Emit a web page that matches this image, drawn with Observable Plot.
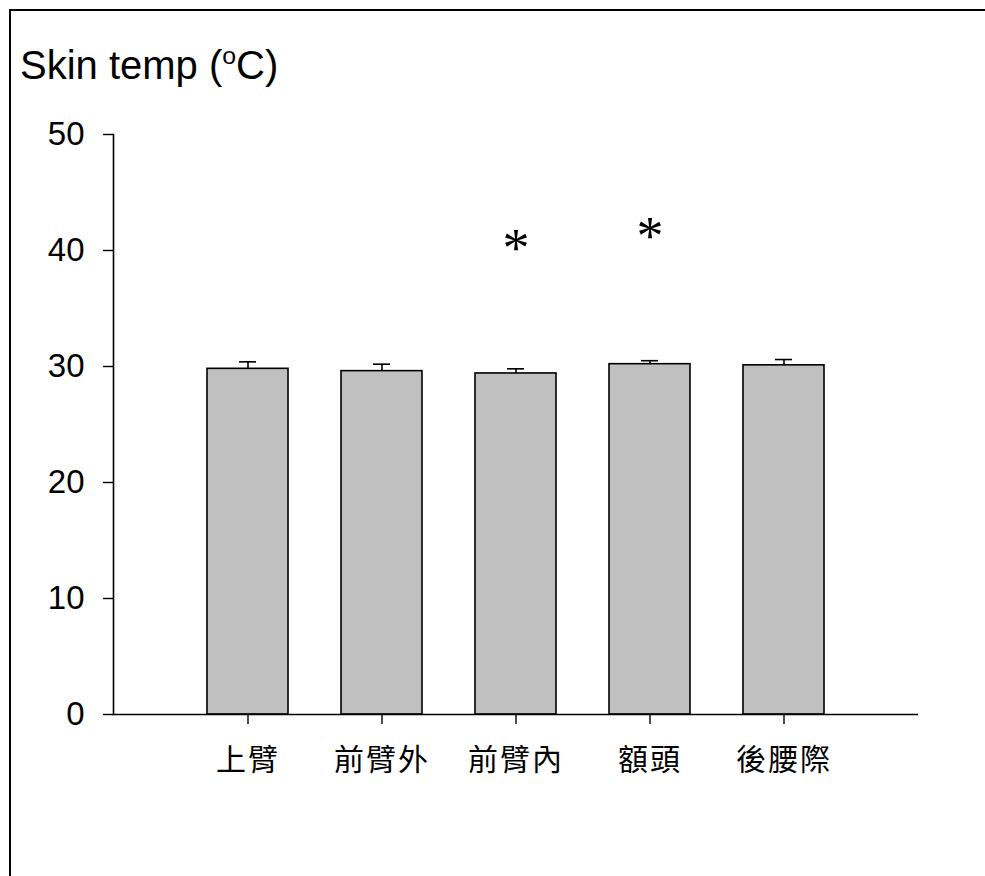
<!DOCTYPE html>
<html>
<head>
<meta charset="utf-8">
<script src="https://cdn.jsdelivr.net/npm/d3@7"></script>
<script src="https://cdn.jsdelivr.net/npm/@observablehq/plot@0.6"></script>
<style>
  html, body { margin: 0; padding: 0; background: #fff; }
  #wrap { position: relative; width: 985px; height: 876px; overflow: hidden; }
  #border {
    position: absolute; left: 9px; top: 9px; right: -10px; bottom: -10px;
    border-top: 2px solid #000; border-left: 2px solid #000;
  }
  #title {
    position: absolute; left: 20px; top: 45px;
    font-family: "Liberation Sans", Arial, sans-serif; font-size: 40px;
    color: #000; line-height: 1; white-space: nowrap;
  }
  #title sup { font-size: 0.62em; vertical-align: 0.62em; line-height: 0; }
  #chart { position: absolute; left: 0; top: 0; }
  #chart svg g[aria-label="x-axis tick label"] text { letter-spacing: 2px; }
</style>
</head>
<body>
<div id="wrap">
  <div id="chart"></div>
  <div id="border"></div>
  <div id="title">Skin temp (<sup>o</sup>C)</div>
</div>
<script>
// Skin temperature by measurement site: mean with upper error bar
const sites = ["上臂", "前臂外", "前臂內", "額頭", "後腰際"];
const means = [29.8, 29.6, 29.4, 30.2, 30.1];
const errors = [0.6, 0.6, 0.4, 0.3, 0.5];
const yTicks = [0, 10, 20, 30, 40, 50];

// significance markers
const starSites = ["前臂內", "額頭"];
const starY = [40.6, 41.6];

const rows = sites.map((s, i) => ({site: s, mean: means[i], hi: means[i] + errors[i]}));
const stars = starSites.map((s, i) => ({site: s, y: starY[i]}));

const chart = Plot.plot({
  width: 985,
  height: 876,
  marginLeft: 113,
  marginRight: 67,
  marginTop: 134,
  marginBottom: 162,
  style: {background: "transparent", color: "#000"},
  x: {domain: sites, paddingInner: 0.395, paddingOuter: 0.6975, label: null},
  y: {domain: [0, 50], label: null},
  marks: [
    Plot.barY(rows, {x: "site", y: "mean", fill: "#c0c0c0", stroke: "#000", strokeWidth: 1.6}),
    Plot.ruleX(rows, {x: "site", y1: "mean", y2: "hi", stroke: "#000", strokeWidth: 1.6}),
    Plot.tickY(rows, {x: "site", y: "hi", insetLeft: 32, insetRight: 32, stroke: "#000", strokeWidth: 1.6}),
    Plot.text(stars, {x: "site", y: "y", text: () => "*", fontSize: 54,
      fontFamily: "Liberation Serif, serif", dy: 5, fill: "#000"}),
    Plot.ruleY([0], {stroke: "#000", strokeWidth: 1.6}),
    Plot.frame({anchor: "left", stroke: "#000", strokeWidth: 1.6}),
    Plot.axisY({ticks: yTicks, tickSize: 10, tickPadding: 19, fontSize: 33,
      fontFamily: "Liberation Sans, Arial, sans-serif", strokeWidth: 1.4, label: null}),
    Plot.axisX({tickSize: 10, tickPadding: 24, fontSize: 30,
      fontFamily: "Noto Sans CJK TC, sans-serif", strokeWidth: 1.4, label: null})
  ]
});
document.getElementById("chart").appendChild(chart);
</script>
</body>
</html>
